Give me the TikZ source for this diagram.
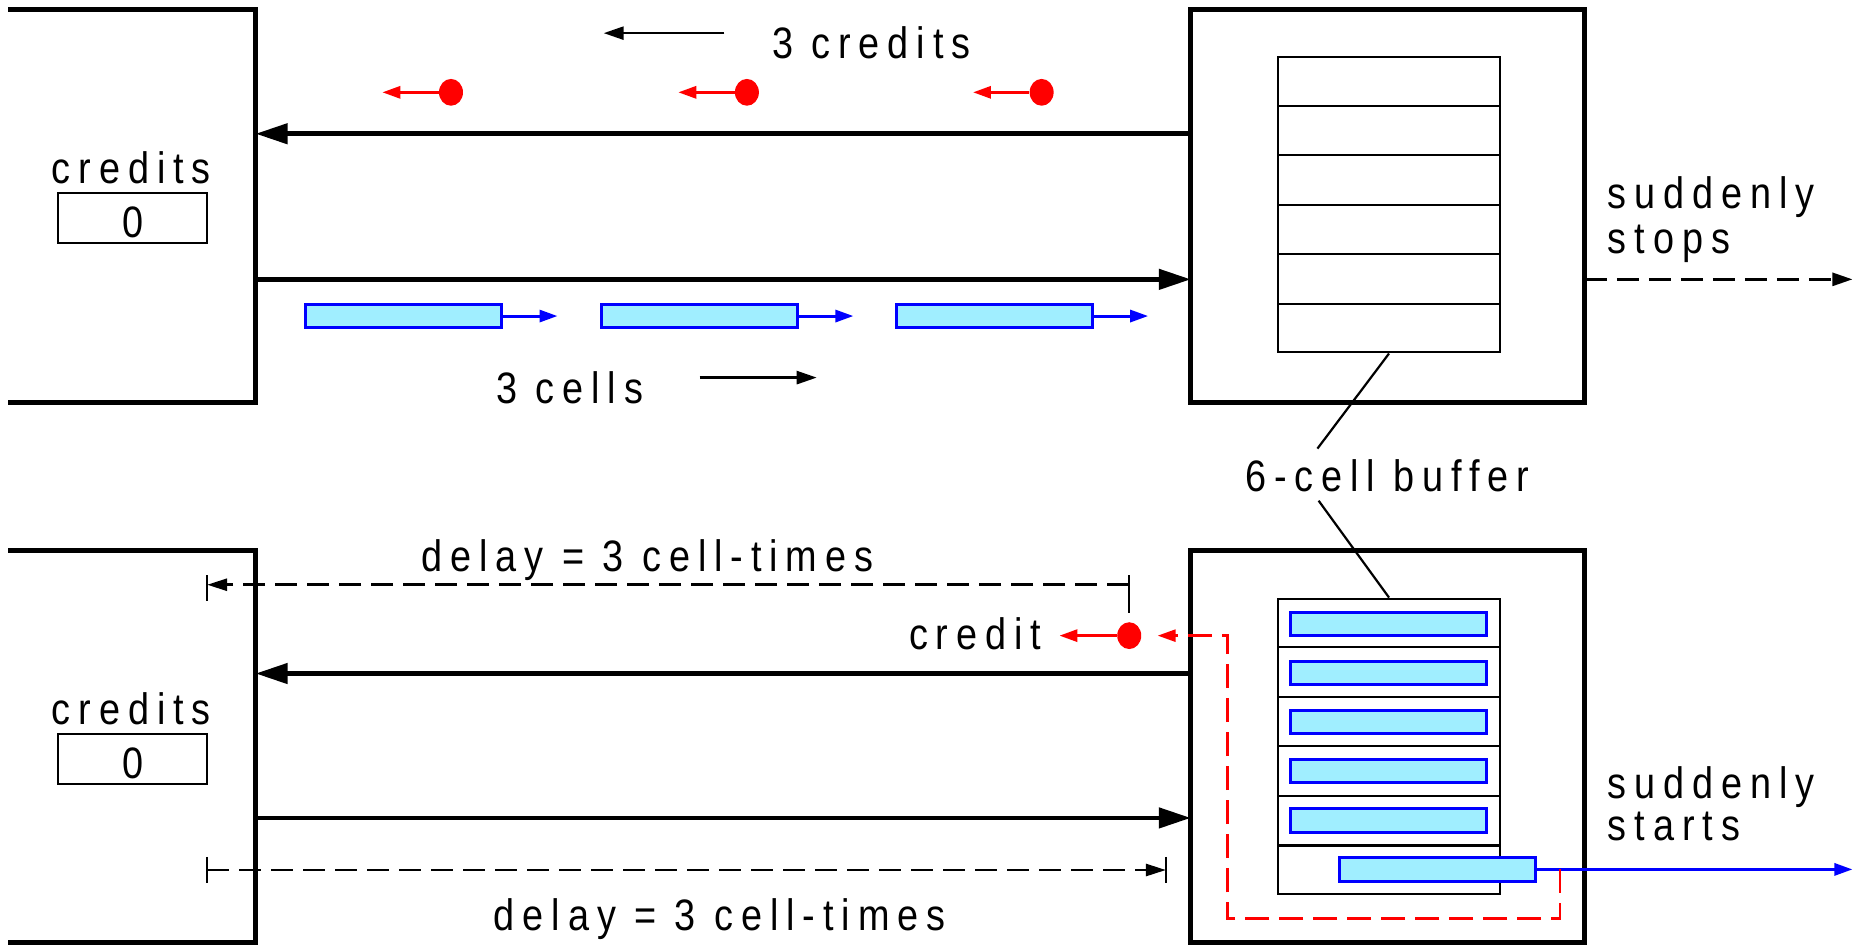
\documentclass[tikz,border=0pt]{standalone}
\usepackage{fontspec}
\setmainfont{Liberation Sans}
\newfontfamily\lab{Liberation Sans}[FakeStretch=0.86,LetterSpace=18]
\usetikzlibrary{arrows.meta,shapes.geometric,calc}
\definecolor{cellfill}{HTML}{A0EEFF}
\definecolor{cellblue}{HTML}{0000FF}
\definecolor{credred}{HTML}{FF0000}
\tikzset{
  wall/.style={line width=2.5pt, line join=miter},
  mainarrow/.style={line width=2.3pt, -{Triangle[length=16pt,width=10pt]}},
  thinline/.style={line width=1.1pt},
  txt/.style={font=\lab\fontsize{22}{26}\selectfont, inner sep=0pt},
  smallarrow/.style={line width=1.3pt, -{Triangle[length=10pt,width=6.5pt]}},
  dimline/.style={line width=1.3pt, dash pattern=on 11pt off 5pt},
  counter/.style={draw, line width=1.1pt, minimum width=74.6pt, minimum height=24.9pt, inner sep=0pt},
  bufbox/.style={draw, line width=1.1pt, minimum width=110.7pt, minimum height=147.6pt, inner sep=0pt},
  cellbox/.style={draw=cellblue, fill=cellfill, line width=1.5pt, minimum width=98.2pt, minimum height=11.8pt, inner sep=0pt},
  cellmove/.style={draw=cellblue, line width=1.5pt, -{Triangle[length=9pt,width=6pt]}},
  creditdot/.style={ellipse, fill=credred, minimum width=12pt, minimum height=13.4pt, inner sep=0pt},
  creditmove/.style={draw=credred, line width=1.5pt, -{Triangle[length=9pt,width=6pt]}},
  creditpath/.style={draw=credred, line width=1.3pt, dash pattern=on 12pt off 5pt, -{Triangle[length=9pt,width=6pt]}},
}
\begin{document}
\begin{tikzpicture}[x=0.5918pt,y=-0.5918pt]
\useasboundingbox (0,0) rectangle (1568,799);

% ---------- upper scene: receiver stops draining ----------
% sender (open on the left) and switch
\draw[wall] (7,8) -- (216,8) -- (216,340) -- (7,340);
\draw[wall] (1006,8) rectangle (1339,340);
\coordinate (UL-in)  at (216,113);
\coordinate (UL-out) at (216,236);
\coordinate (UR-out) at (1006,113);
\coordinate (UR-in)  at (1006,236);
\draw[mainarrow] (UR-out) -- (UL-in);
\draw[mainarrow] (UL-out) -- (UR-in);

% credit counter of the sender
\node[txt, anchor=base] (ucredits) at (111,155) {credits};
\node[counter] (K1) at (112,184) {};
\node[txt, anchor=base] (uzero) at (112,201) {0};

% empty six-cell buffer
\node[bufbox] (B1) at (1173.5,173) {};
\foreach \k in {1,...,5}
  \draw[thinline] ($(B1.north west)!\k/6!(B1.south west)$) -- ($(B1.north east)!\k/6!(B1.south east)$);

% credits travelling back
\node[txt, anchor=base west] (ncred) at (652,49) {3 credits};
\coordinate (ca-s) at (612,28);
\coordinate (ca-e) at (510,28);
\draw[smallarrow] (ca-s) -- (ca-e);
\foreach \x/\n in {381/1,631/2,880/3}{
  \node[creditdot] (d\n) at (\x,78) {};
  \coordinate (dt\n) at (\x-58,78);
  \draw[creditmove] (d\n.west) -- (dt\n);
}

% cells travelling forward
\foreach \x/\n in {341/1,591/2,840/3}{
  \node[cellbox] (c\n) at (\x,267) {};
  \coordinate (ct\n) at (\x+130,267);
  \draw[cellmove] (c\n.east) -- (ct\n);
}
\node[txt, anchor=base west] (ncells) at (419,341) {3 cells};
\coordinate (cl-s) at (591,319);
\coordinate (cl-e) at (690,319);
\draw[smallarrow] (cl-s) -- (cl-e);

% output stops
\node[txt, anchor=base west] (stop1) at (1358,176) {suddenly};
\node[txt, anchor=base west] (stop2) at (1358,214) {stops};
\coordinate (UR-exit) at (1339,236);
\coordinate (UR-far)  at (1565,236);
\draw[smallarrow, dash pattern=on 11pt off 5pt] (UR-exit) -- (UR-far);

% buffer label shared by both scenes
\node[txt, anchor=base] (buflab) at (1172,415) {6-cell buffer};
\coordinate (lead-up) at (1113,379);
\coordinate (lead-dn) at (1114,423);
\draw[thinline] (B1.south) -- (lead-up);

% ---------- lower scene: receiver starts draining ----------
\draw[wall] (7,465) -- (216,465) -- (216,796) -- (7,796);
\draw[wall] (1006,465) rectangle (1339,796);
\coordinate (LL-in)  at (216,569);
\coordinate (LL-out) at (216,691);
\coordinate (LR-out) at (1006,569);
\coordinate (LR-in)  at (1006,691);
\draw[mainarrow] (LR-out) -- (LL-in);
\draw[mainarrow] (LL-out) -- (LR-in);

\node[txt, anchor=base] (lcredits) at (111,612) {credits};
\node[counter] (K2) at (112,641) {};
\node[txt, anchor=base] (lzero) at (112,658) {0};

% full buffer
\node[bufbox] (B2) at (1173.5,630.5) {};
\foreach \k in {1,...,5}
  \draw[thinline] ($(B2.north west)!\k/6!(B2.south west)$) -- ($(B2.north east)!\k/6!(B2.south east)$);
\draw[thinline] (lead-dn) -- (B2.north);
\foreach \k in {0,...,4}
  \node[cellbox] (q\k) at (1173,527+41.5*\k) {};

% departing cell and the credit it releases
\node[cellbox] (qout) at (1214.5,734.5) {};
\coordinate (LR-far) at (1565,734.5);
\draw[cellmove] (qout.east) -- (LR-far);
\coordinate (rp0) at (1318,734.5);
\coordinate (rp1) at (1318,776);
\coordinate (rp2) at (1037,776);
\coordinate (rp3) at (1037,537);
\coordinate (rp4) at (978,537);
\draw[creditpath] (rp0) -- (rp1) -- (rp2) -- (rp3) -- (rp4);

\node[creditdot] (cd) at (954,537) {};
\coordinate (cdt) at (895,537);
\draw[creditmove] (cd.west) -- (cdt);
\node[txt, anchor=base east] (ncredit) at (880,549) {credit};

% delay dimensions
\node[txt, anchor=base] (delay1) at (547,483) {delay = 3 cell-times};
\coordinate (dA1) at (954,494);
\coordinate (dA2) at (175,494);
\draw[thinline] (954,486) -- (954,518);
\draw[thinline] (175,486) -- (175,508);
\draw[dimline, -{Triangle[length=10pt,width=6pt]}] (dA1) -- (dA2);

\node[txt, anchor=base] (delay2) at (608,786) {delay = 3 cell-times};
\coordinate (dB1) at (175,735);
\coordinate (dB2) at (985,735);
\draw[thinline] (175,724) -- (175,746);
\draw[thinline] (985,724) -- (985,746);
\draw[dimline, -{Triangle[length=10pt,width=6pt]}] (dB1) -- (dB2);

\node[txt, anchor=base west] (start1) at (1358,675) {suddenly};
\node[txt, anchor=base west] (start2) at (1358,710) {starts};
\end{tikzpicture}
\end{document}
